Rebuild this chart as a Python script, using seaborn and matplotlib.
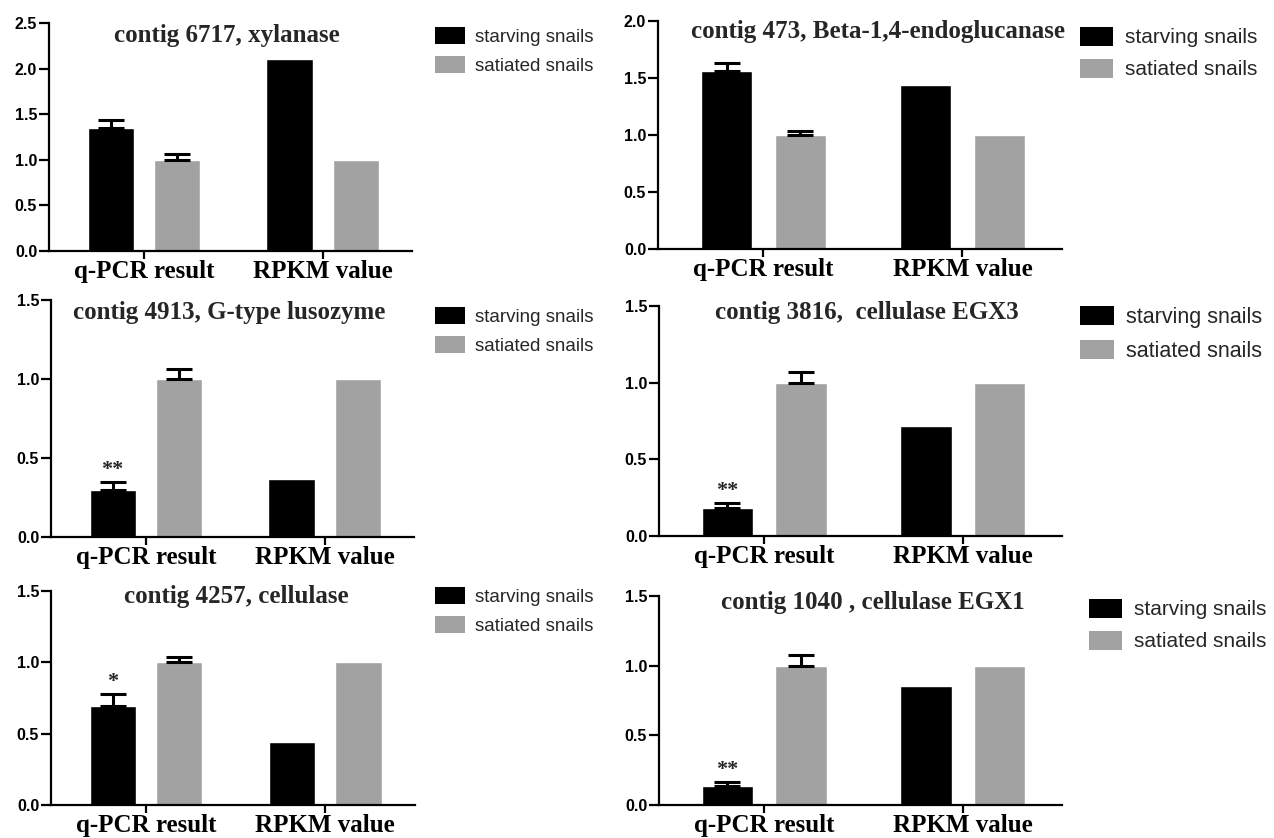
import matplotlib
matplotlib.use("Agg")
import matplotlib.pyplot as plt
import seaborn as sns
import pandas as pd
from matplotlib.patches import Patch

# data
groups = ["q-PCR result", "RPKM value"]
conditions = ["starving snails", "satiated snails"]
titles = [
    "contig 6717, xylanase",
    "contig 473, Beta-1,4-endoglucanase",
    "contig 4913, G-type lusozyme",
    "contig 3816,  cellulase EGX3",
    "contig 4257, cellulase",
    "contig 1040 , cellulase EGX1",
]
starving_qpcr = [1.35, 1.56, 0.295, 0.185, 0.695, 0.136]
starving_qpcr_err = [0.09, 0.07, 0.05, 0.03, 0.08, 0.03]
satiated_qpcr = [1.0, 1.0, 1.0, 1.0, 1.0, 1.0]
satiated_qpcr_err = [0.06, 0.035, 0.065, 0.07, 0.035, 0.08]
starving_rpkm = [2.10, 1.44, 0.365, 0.72, 0.445, 0.855]
satiated_rpkm = [1.0, 1.0, 1.0, 1.0, 1.0, 1.0]
signif = ["", "", "**", "**", "*", "**"]
y_max = [2.5, 2.0, 1.5, 1.5, 1.5, 1.5]

COLORS = {"starving snails": "#000000", "satiated snails": "#a2a2a2"}

W, H = 1274, 838

# panel boxes in pixels: left, right, top, bottom
boxes = [
    (49, 412, 23, 251),
    (658, 1062, 21, 249),
    (51, 414, 300, 537),
    (659, 1062, 306, 536),
    (51, 415, 591, 805),
    (659, 1062, 596, 805),
]
title_pos = [(0.49, 0.943), (0.545, 0.952), (0.49, 0.949), (0.515, 0.970), (0.51, 0.972), (0.53, 0.967)]
# legend anchor (handle top-left) in pixels and font size
legend_pos = [(435, 27, 13.5), (1080, 27, 15), (435, 307, 13.5), (1080, 306, 15.5), (435, 587, 13.5), (1089, 599, 15)]

sns.set_theme(style="ticks")
plt.rcParams.update({
    "font.family": ["Liberation Serif", "DejaVu Serif"],
    "axes.linewidth": 1.6,
    "xtick.major.width": 1.6,
    "ytick.major.width": 1.6,
    "xtick.major.size": 6,
    "ytick.major.size": 7,
    "xtick.direction": "out",
    "ytick.direction": "out",
})

fig = plt.figure(figsize=(W / 100, H / 100), dpi=100)

for i in range(6):
    l, r, t, b = boxes[i]
    ax = fig.add_axes([l / W, 1 - b / H, (r - l) / W, (b - t) / H])

    df = pd.DataFrame({
        "group": groups * 2,
        "condition": [conditions[0]] * 2 + [conditions[1]] * 2,
        "value": [starving_qpcr[i], starving_rpkm[i], satiated_qpcr[i], satiated_rpkm[i]],
    })
    sns.barplot(data=df, x="group", y="value", hue="condition", hue_order=conditions,
                palette=COLORS, width=0.74, gap=0.3, errorbar=None, legend=False,
                saturation=1, ax=ax)

    # upper-only error bars on the q-PCR bars
    errs = [starving_qpcr_err[i], satiated_qpcr_err[i]]
    bar_conts = list(ax.containers)
    for k, cont in enumerate(bar_conts):
        bar = cont.patches[0]
        cx = bar.get_x() + bar.get_width() / 2
        h = bar.get_height()
        ax.errorbar([cx], [h], yerr=[[0], [errs[k]]], fmt="none", ecolor="black",
                    elinewidth=2.2, capsize=9.5, capthick=2.2, zorder=3)
        if k == 0 and signif[i]:
            ax.text(cx, h + errs[k] + 0.01 * y_max[i], signif[i], ha="center", va="bottom",
                    fontsize=16, fontweight="bold", family="Liberation Serif")

    ax.set_xlim(-0.53, 1.5)
    ax.set_ylim(0, y_max[i])
    n_ticks = int(round(y_max[i] / 0.5)) + 1
    ax.set_yticks([v * 0.5 for v in range(n_ticks)])
    ax.set_yticklabels([f"{v * 0.5:.1f}" for v in range(n_ticks)],
                       family="Liberation Sans", fontweight="bold", fontsize=11.5)
    ax.set_xticks([0, 1])
    ax.set_xticklabels(groups, fontsize=18, fontweight="bold", family="Liberation Serif")
    ax.tick_params(axis="x", pad=0.5)
    ax.tick_params(axis="y", pad=1.5)
    ax.set_xlabel("")
    ax.set_ylabel("")
    for s in ["top", "right"]:
        ax.spines[s].set_visible(False)
    ax.spines["left"].set_color("black")
    ax.spines["bottom"].set_color("black")
    ax.tick_params(colors="black")

    tx, ty = title_pos[i]
    ax.text(tx, ty, titles[i], transform=ax.transAxes, ha="center", va="center",
            fontsize=18, fontweight="bold", family="Liberation Serif")

    lx, ly, lfs = legend_pos[i]
    handles = [Patch(facecolor=COLORS[c], edgecolor="none") for c in conditions]
    fig.legend(handles, conditions, loc="upper left", bbox_to_anchor=(lx / W, 1 - ly / H),
               bbox_transform=fig.transFigure, frameon=False, borderpad=0, borderaxespad=0,
               handlelength=1.6, handleheight=1.0, labelspacing=0.55, handletextpad=0.55,
               prop={"family": "Liberation Sans", "size": lfs})

fig.savefig("out.png", dpi=100)
